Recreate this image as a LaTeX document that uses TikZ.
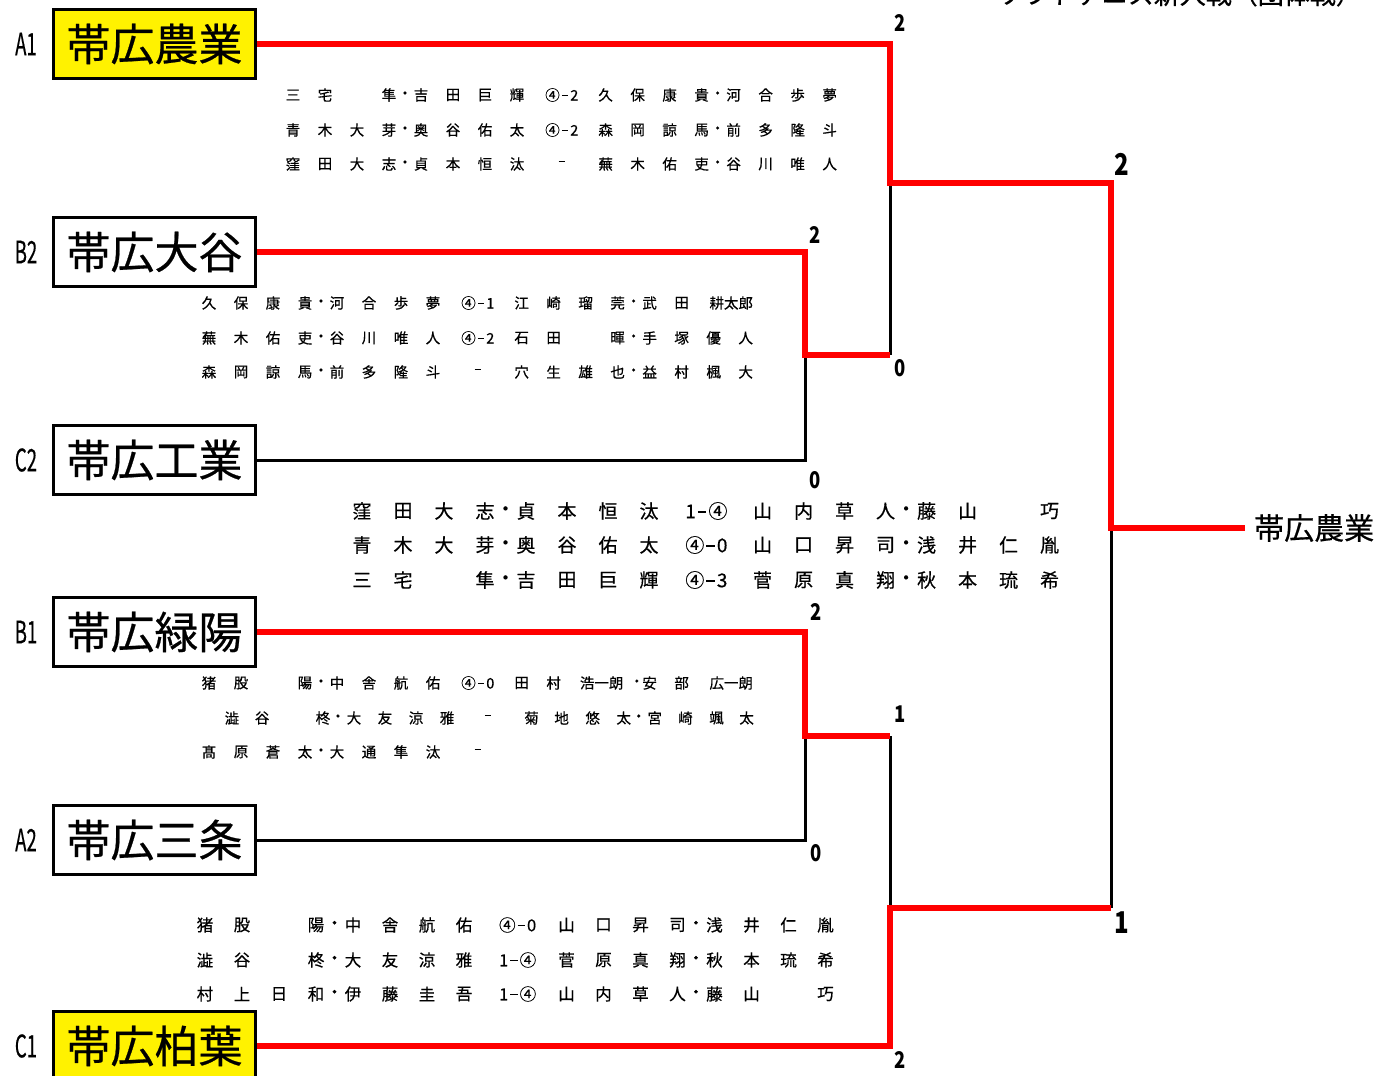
\documentclass[tikz,border=0pt]{standalone}
\usepackage{graphicx}
\usepackage{fontspec}
\setmainfont{Noto Sans CJK JP}
\newfontfamily\jpx{Noto Sans CJK JP}[FakeBold=0.5]
\newcounter{tn}
\newcommand\narrow[2]{\scalebox{#1}[1]{#2}}
\newcommand\dsh{\rule[0.3em]{0.45em}{0.07em}}
\newcommand\scr[2]{#1\kern2pt\dsh\kern2pt#2}
\tikzset{
  x=1pt,y=-1pt,
  team/.style={draw=black,line width=3pt,minimum width=202pt,minimum height=69pt,inner sep=0pt,font=\jpx\fontsize{44}{44}\selectfont},
  winbox/.style={team,fill=yellow},
  loss/.style={draw=black,line width=3pt},
  win/.style={draw=red,line width=6pt},
  seed/.style={inner sep=0pt,font=\jpx\fontsize{31}{31}\selectfont},
  pts/.style={inner sep=0pt,font=\fontsize{23}{23}\selectfont\bfseries},
  bigpts/.style={inner sep=0pt,font=\fontsize{30}{30}\selectfont\bfseries},
  mt/.style={inner sep=0pt},
}
\newcommand\mleft[5]{%
  \foreach \k/\ch in {#5}{\stepcounter{tn}%
    \node[mt,font=\jpx\fontsize{#4}{#4}\selectfont,name=t\arabic{tn}] at ({#1+\k*#3},#2) {\ch};}}
\newcommand\mright[5]{%
  \foreach \k/\ch in {#5}{\stepcounter{tn}%
    \node[mt,font=\jpx\fontsize{#4}{#4}\selectfont,name=t\arabic{tn}] at ({#1+(9.77+\k)*#3},#2) {\ch};}}
\newcommand\mrow[6]{\mleft{#1}{#2}{#3}{#4}{#5}\mright{#1}{#2}{#3}{#4}{#6}}
\begin{document}
\begin{tikzpicture}
\useasboundingbox (0,0) rectangle (1377,1076);
\clip (0,0) rectangle (1377,1076);
\fill[white] (0,0) rectangle (1377,1076);

% title (cut off at top)
\node[anchor=base east,inner sep=0pt,font=\jpx\fontsize{26}{26}\selectfont] (title) at (1362,4) {ソフトテニス新人戦（団体戦）};

% team boxes
\node[winbox] (A1) at (154.5,44) {帯広農業};
\node[team] (B2) at (154.5,252) {帯広大谷};
\node[team] (C2) at (154.5,460) {帯広工業};
\node[team] (B1) at (154.5,632) {帯広緑陽};
\node[team] (A2) at (154.5,840) {帯広三条};
\node[winbox] (C1) at (154.5,1046) {帯広柏葉};

% seed labels
\node[seed] (sA1) at (26,44) {\narrow{0.6}{A1}};
\node[seed] (sB2) at (26,252) {\narrow{0.6}{B2}};
\node[seed] (sC2) at (26,460) {\narrow{0.6}{C2}};
\node[seed] (sB1) at (26,632) {\narrow{0.6}{B1}};
\node[seed] (sA2) at (26,840) {\narrow{0.6}{A2}};
\node[seed] (sC1) at (26,1046) {\narrow{0.6}{C1}};

% junctions
\coordinate (m1) at (890,183);
\coordinate (m2) at (805,355);
\coordinate (m3) at (890,355);
\coordinate (m4) at (805,736);
\coordinate (m5) at (890,736);
\coordinate (m6) at (890,908);
\coordinate (ft) at (1111,183);
\coordinate (fb) at (1111,908);
\coordinate (fw) at (1111,528);
\node[anchor=west,inner xsep=9pt,inner ysep=0pt,font=\jpx\fontsize{30}{30}\selectfont] (champ) at (1245,528) {帯広農業};

% losing lines
\draw[loss] (C2.east) -| (m2);
\draw[loss] (m3) -- (m1);
\draw[loss] (A2.east) -| (m4);
\draw[loss] (m5) -- (m6);
\draw[loss] (fb) -- (fw);

% winning lines
\draw[win] (A1.east) -| (m1) -- (ft) -- (fw) -- (champ.west);
\draw[win] (B2.east) -| (m2) -- (m3);
\draw[win] (B1.east) -| (m4) -- (m5);
\draw[win] (C1.east) -| (m6) -- (fb);

% scores
\node[pts] (s1) at (900,23) {\narrow{0.8}{2}};
\node[bigpts] (s2) at (1122,164) {\narrow{0.8}{2}};
\node[pts] (s3) at (815,235) {\narrow{0.8}{2}};
\node[pts] (s4) at (900,368) {\narrow{0.8}{0}};
\node[pts] (s5) at (815,480) {\narrow{0.8}{0}};
\node[pts] (s6) at (816,612) {\narrow{0.8}{2}};
\node[pts] (s7) at (900,714) {\narrow{0.8}{1}};
\node[pts] (s8) at (816,853) {\narrow{0.8}{0}};
\node[bigpts] (s9) at (1122,923) {\narrow{0.8}{1}};
\node[pts] (s10) at (900,1060) {\narrow{0.8}{2}};

% match 1: A1 vs B2
\mrow{293}{95}{32}{14.5}{0/三,1/宅,3/隼,3.5/・,4/吉,5/田,6/巨,7/輝,8.4/\scr{④}{2}}{0/久,1/保,2/康,3/貴,3.5/・,4/河,5/合,6/歩,7/夢}
\mrow{293}{130}{32}{14.5}{0/青,1/木,2/大,3/芽,3.5/・,4/奥,5/谷,6/佑,7/太,8.4/\scr{④}{2}}{0/森,1/岡,2/諒,3/馬,3.5/・,4/前,5/多,6/隆,7/斗}
\mrow{293}{164}{32}{14.5}{0/窪,1/田,2/大,3/志,3.5/・,4/貞,5/本,6/恒,7/汰,8.4/\dsh}{0/蕪,1/木,2/佑,3/吏,3.5/・,4/谷,5/川,6/唯,7/人}

% match 2: B2 vs C2
\mrow{209}{303}{32}{14.5}{0/久,1/保,2/康,3/貴,3.5/・,4/河,5/合,6/歩,7/夢,8.4/\scr{④}{1}}{0/江,1/崎,2/瑠,3/莞,3.5/・,4/武,5/田,6.55/耕太郎}
\mrow{209}{338}{32}{14.5}{0/蕪,1/木,2/佑,3/吏,3.5/・,4/谷,5/川,6/唯,7/人,8.4/\scr{④}{2}}{0/石,1/田,3/暉,3.5/・,4/手,5/塚,6/優,7/人}
\mrow{209}{372}{32}{14.5}{0/森,1/岡,2/諒,3/馬,3.5/・,4/前,5/多,6/隆,7/斗,8.4/\dsh}{0/穴,1/生,2/雄,3/也,3.5/・,4/益,5/村,6/楓,7/大}

% final
\mrow{362}{511}{41}{19}{0/窪,1/田,2/大,3/志,3.5/・,4/貞,5/本,6/恒,7/汰,8.4/\scr{1}{④}}{0/山,1/内,2/草,3/人,3.5/・,4/藤,5/山,7/巧}
\mrow{362}{545}{41}{19}{0/青,1/木,2/大,3/芽,3.5/・,4/奥,5/谷,6/佑,7/太,8.4/\scr{④}{0}}{0/山,1/口,2/昇,3/司,3.5/・,4/浅,5/井,6/仁,7/胤}
\mrow{362}{580}{41}{19}{0/三,1/宅,3/隼,3.5/・,4/吉,5/田,6/巨,7/輝,8.4/\scr{④}{3}}{0/菅,1/原,2/真,3/翔,3.5/・,4/秋,5/本,6/琉,7/希}

% match 3: B1 vs A2
\mrow{209}{683}{32}{14.5}{0/猪,1/股,3/陽,3.5/・,4/中,5/舎,6/航,7/佑,8.4/\scr{④}{0}}{0/田,1/村,2.5/浩一朗,3.6/・,4/安,5/部,6.55/広一朗}
\mrow{209}{718}{32}{14.5}{0.72/澁,1.66/谷,3.56/柊,4.03/・,4.53/大,5.5/友,6.47/涼,7.44/雅,8.72/\dsh}{0.31/菊,1.25/地,2.22/悠,3.19/太,3.66/・,4.16/宮,5.12/崎,6.09/颯,7.03/太}
\mleft{209}{752}{32}{14.5}{0/髙,1/原,2/蒼,3/太,3.5/・,4/大,5/通,6/隼,7/汰,8.4/\dsh}

% match 4: B1 vs C1
\mrow{205}{925}{37}{16.5}{0/猪,1/股,3/陽,3.5/・,4/中,5/舎,6/航,7/佑,8.45/\scr{④}{0}}{0/山,1/口,2/昇,3/司,3.5/・,4/浅,5/井,6/仁,7/胤}
\mrow{205}{960}{37}{16.5}{0/澁,1/谷,3/柊,3.5/・,4/大,5/友,6/涼,7/雅,8.45/\scr{1}{④}}{0/菅,1/原,2/真,3/翔,3.5/・,4/秋,5/本,6/琉,7/希}
\mrow{205}{994}{37}{16.5}{0/村,1/上,2/日,3/和,3.5/・,4/伊,5/藤,6/圭,7/吾,8.45/\scr{1}{④}}{0/山,1/内,2/草,3/人,3.5/・,4/藤,5/山,7/巧}
\end{tikzpicture}
\end{document}
